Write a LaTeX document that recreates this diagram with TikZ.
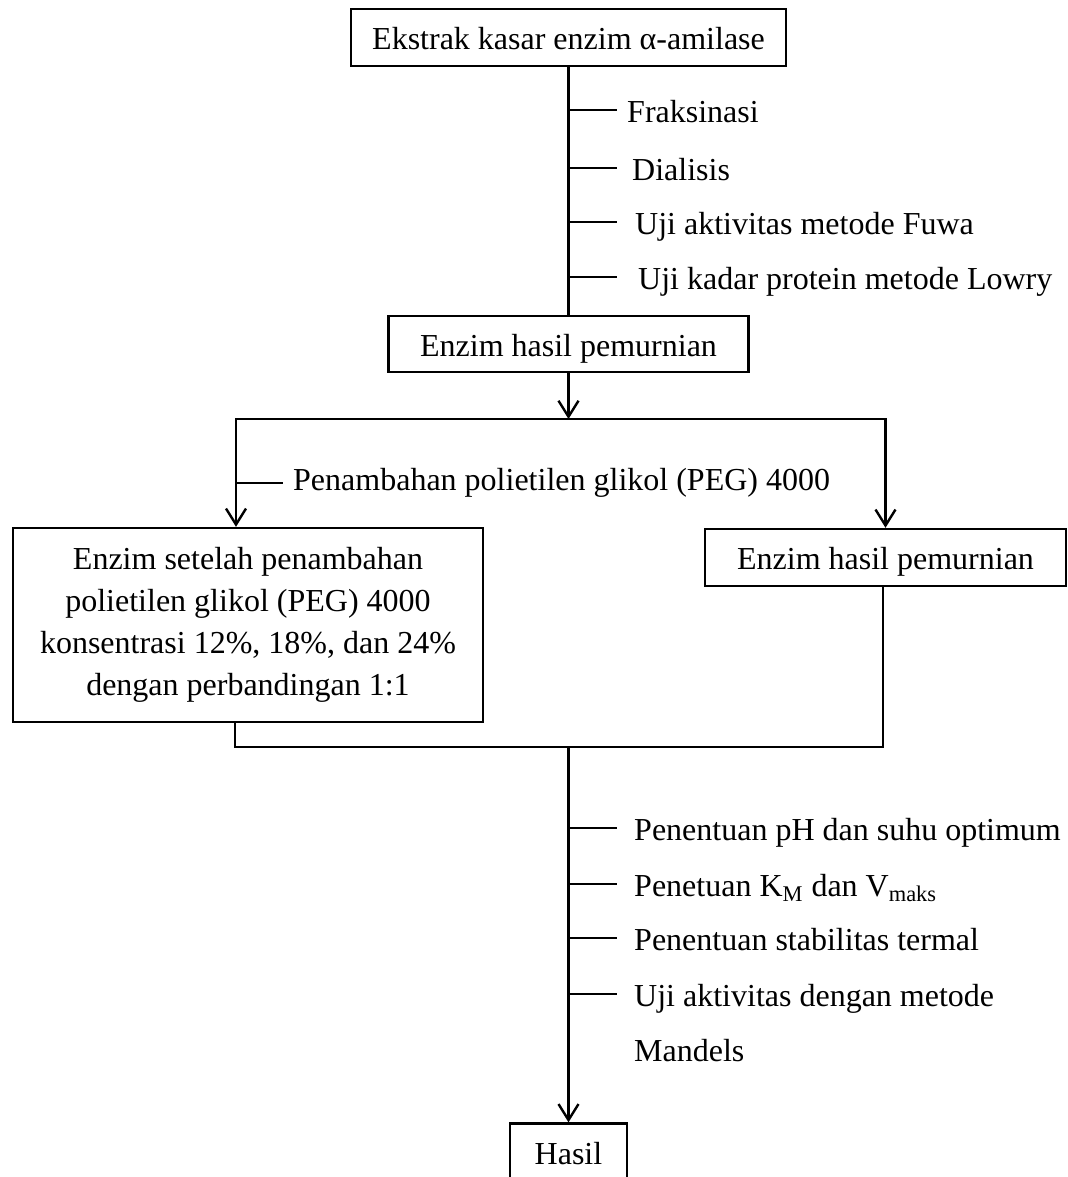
\documentclass[tikz,border=0pt]{standalone}
\usepackage{fontspec}
\setmainfont{Liberation Serif}
\usepackage{tikz}
\usetikzlibrary{arrows.meta}
\usetikzlibrary{positioning}
\tikzstyle{box}=[rectangle,draw=black,inner sep=0mm]
\tikzstyle{process}=[box,text height=13pt,text depth=1pt]
\tikzstyle{task}=[anchor=west,inner ysep=0pt,text height=12.5pt,text depth=0pt]
\tikzstyle{arrow}=[->,>={Straight Barb[length=8pt,width=10pt]}]
\tikzset{every picture/.style={
    line width=1.2pt
  }
}

\begin{document}
\begin{tikzpicture}[x=0.5pt,y=-0.5pt,font=\fontsize{16pt}{21pt}\selectfont]
      \useasboundingbox (0,0) rectangle (1067,1177);
      \node[process,minimum width=217.5pt,minimum height=28.5pt] at (568.5,37.5) (crude) {Ekstrak kasar enzim α-amilase};
      \node[process,minimum width=180pt,minimum height=28pt] at (568.5,344) (purified) {Enzim hasil pemurnian};
      \draw (crude) -- (purified);
      \node[task,inner xsep=4.5pt] at (617,110) (frac) {Fraksinasi};
      \node[task,inner xsep=7pt] at (617,168) (dial) {Dialisis};
      \node[task,inner xsep=8.5pt] at (617,222) (fuwa) {Uji aktivitas metode Fuwa};
      \node[task,inner xsep=10pt] at (617,277) (lowry) {Uji kadar protein metode Lowry};
      \draw (frac.west -| crude.south) -- (frac.west);
      \draw (dial.west -| crude.south) -- (dial.west);
      \draw (fuwa.west -| crude.south) -- (fuwa.west);
      \draw (lowry.west -| crude.south) -- (lowry.west);
      \node[box,minimum width=235pt,minimum height=97pt,align=center] at (248,625) (peg) {Enzim setelah penambahan\\polietilen glikol (PEG) 4000\\konsentrasi 12\%, 18\%, dan 24\%\\dengan perbandingan 1:1};
      \node[process,minimum width=180.5pt,minimum height=28.5pt] at (885.5,557.5) (control) {Enzim hasil pemurnian};
      \coordinate (split) at (568.5,419);
      \coordinate (lsplit) at (236,419);
      \draw[arrow] (purified) -- (split);
      \draw[arrow] (split) -| (lsplit |- peg.north);
      \draw[arrow] (split) -| (control.north);
      \coordinate (addtick) at (236,483);
      \node[task,inner xsep=4.5pt] at (283,478) (add) {Penambahan polietilen glikol (PEG) 4000};
      \draw (addtick) -- (addtick -| add.west);
      \coordinate (merge) at (568.5,747);
      \coordinate (lmerge) at (235,747);
      \coordinate (rmerge) at (883,747);
      \draw (lmerge |- peg.south) -- (lmerge) -- (rmerge) -- (rmerge |- control.south);
      \node[process,minimum width=58.5pt,minimum height=28.5pt] at (568.5,1152) (result) {Hasil};
      \draw[arrow] (merge) -- (result);
      \node[task,inner xsep=8pt] at (617,828) (ph) {Penentuan pH dan suhu optimum};
      \node[task,inner xsep=8pt] at (617,884) (km) {Penetuan K\textsubscript{M} dan V\textsubscript{maks}};
      \node[task,inner xsep=8pt] at (617,938) (therm) {Penentuan stabilitas termal};
      \node[task,inner xsep=8pt] at (617,994) (mandels) {Uji aktivitas dengan metode};
      \node[task,inner xsep=8pt] at (617,1049) (mandels2) {Mandels};
      \draw (ph.west -| merge) -- (ph.west);
      \draw (km.west -| merge) -- (km.west);
      \draw (therm.west -| merge) -- (therm.west);
      \draw (mandels.west -| merge) -- (mandels.west);
    \end{tikzpicture}
\end{document}
